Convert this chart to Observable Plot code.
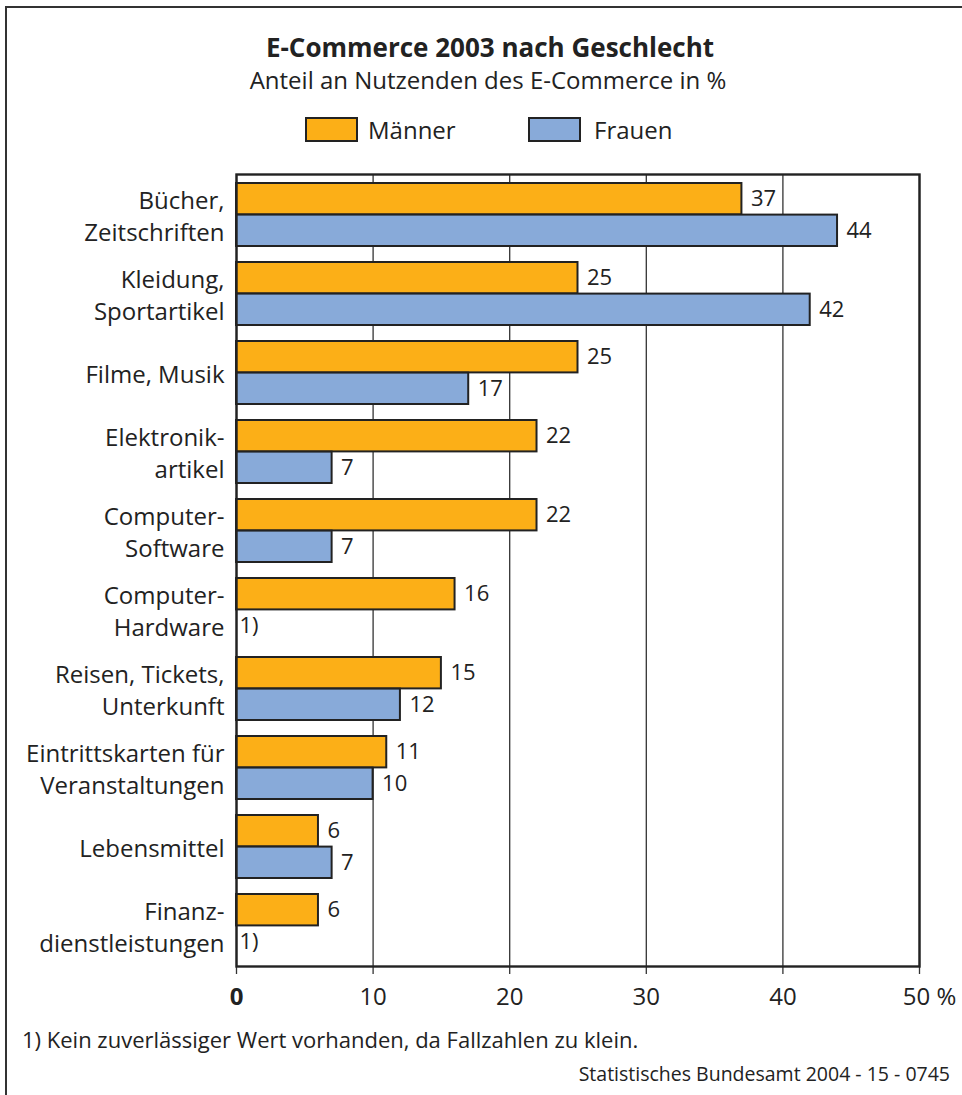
<!DOCTYPE html>
<html><head><meta charset="utf-8">
<script src="https://cdn.jsdelivr.net/npm/d3@7"></script>
<script src="https://cdn.jsdelivr.net/npm/@observablehq/plot@0.6"></script>
<style>
html,body{margin:0;padding:0;background:#fff;overflow:hidden;width:962px;height:1095px;}
body{position:relative;font-family:"Open Sans",sans-serif;color:#222;}
#border{position:absolute;left:5px;top:6px;width:1100px;height:1200px;border:2px solid #333;box-sizing:border-box;}
.t{position:absolute;white-space:nowrap;line-height:1;}
#title{left:0;width:980px;text-align:center;top:34px;font-size:26px;font-weight:bold;}
#subtitle{left:0;width:976px;text-align:center;top:68px;font-size:24px;}
.sw{position:absolute;top:117px;width:53px;height:25px;border:2px solid #222;box-sizing:border-box;}
.lg{top:118px;font-size:24px;}
#chart{position:absolute;left:0;top:150px;}
#foot{left:22px;top:1028px;font-size:22px;}
#source{right:12px;top:1064px;font-size:19.5px;}
</style></head>
<body>
<div id="border"></div>
<div class="t" id="title">E-Commerce 2003 nach Geschlecht</div>
<div class="t" id="subtitle">Anteil an Nutzenden des E-Commerce in %</div>
<div id="legend"></div>
<div id="chart"></div>
<div class="t" id="foot">1) Kein zuverlässiger Wert vorhanden, da Fallzahlen zu klein.</div>
<div class="t" id="source">Statistisches Bundesamt 2004 - 15 - 0745</div>
<script>
const categories = [
  "Bücher,\nZeitschriften",
  "Kleidung,\nSportartikel",
  "Filme, Musik",
  "Elektronik-\nartikel",
  "Computer-\nSoftware",
  "Computer-\nHardware",
  "Reisen, Tickets,\nUnterkunft",
  "Eintrittskarten für\nVeranstaltungen",
  "Lebensmittel",
  "Finanz-\ndienstleistungen"
];
const maenner = [37, 25, 25, 22, 22, 16, 15, 11, 6, 6];
const frauen  = [44, 42, 17, 7, 7, null, 12, 10, 7, null];
const seriesNames = ["Männer", "Frauen"];
const seriesColors = ["#fcaf17", "#88aad9"];
const xTicks = [0, 10, 20, 30, 40, 50];
const footnoteMark = "1)";

// legend
const legend = document.getElementById("legend");
const swLeft = [305, 528];
const lgGap = [63, 66];
seriesNames.forEach((n, i) => {
  const s = document.createElement("div");
  s.className = "sw"; s.style.left = swLeft[i] + "px"; s.style.background = seriesColors[i];
  legend.appendChild(s);
  const l = document.createElement("div");
  l.className = "t lg"; l.style.left = (swLeft[i] + lgGap[i]) + "px"; l.textContent = n;
  legend.appendChild(l);
});

const rowsM = categories.map((c, i) => ({category: c, value: maenner[i]}));
const rowsF = categories.map((c, i) => ({category: c, value: frauen[i]}));

const W = 962, H = 870, mt = 24, mb = 54, ml = 236, mr = 43;
const band = (H - mt - mb) / categories.length;
const half = band / 2;
const gap = 8;
const barOff = (half - gap) / 2; // offset from band center to each bar's center
const txt = {fill: "#222"};

const chart = Plot.plot({
  width: W, height: H,
  marginTop: mt, marginBottom: mb, marginLeft: ml, marginRight: mr,
  style: {fontFamily: "Open Sans, sans-serif", color: "#222", background: "transparent", overflow: "visible"},
  x: {domain: [0, 50], axis: null},
  y: {domain: categories, padding: 0, axis: null},
  marks: [
    Plot.ruleX(xTicks, {x: d => d, stroke: "#333", strokeWidth: 1.3, insetBottom: -8}),
    Plot.barX(rowsM, {x: "value", y: "category", fill: seriesColors[0], stroke: "#222", strokeWidth: 2, insetTop: gap, insetBottom: half}),
    Plot.barX(rowsF.filter(d => d.value != null), {x: "value", y: "category", fill: seriesColors[1], stroke: "#222", strokeWidth: 2, insetTop: half, insetBottom: gap}),
    Plot.text(rowsM, {x: "value", y: "category", text: d => String(d.value), textAnchor: "start", dx: 9, dy: -barOff, fontSize: 22, ...txt}),
    Plot.text(rowsF.filter(d => d.value != null), {x: "value", y: "category", text: d => String(d.value), textAnchor: "start", dx: 9, dy: barOff, fontSize: 22, ...txt}),
    Plot.text(rowsF.filter(d => d.value == null), {x: 0, y: "category", text: () => footnoteMark, textAnchor: "start", dx: 3, dy: barOff, fontSize: 22, ...txt}),
    Plot.frame({stroke: "#222", strokeWidth: 2.4}),
    Plot.text(categories, {x: 0, y: d => d, text: d => d, textAnchor: "end", dx: -12, fontSize: 24, lineHeight: 1.32, ...txt}),
    Plot.text(xTicks.filter(d => d === 0), {x: d => d, frameAnchor: "bottom", lineAnchor: "middle", dy: 31, text: d => String(d), fontSize: 24, fontWeight: "bold", ...txt}),
    Plot.text(xTicks.filter(d => d > 0 && d < 50), {x: d => d, frameAnchor: "bottom", lineAnchor: "middle", dy: 31, text: d => String(d), fontSize: 24, ...txt}),
    Plot.text(xTicks.filter(d => d === 50), {x: d => d, frameAnchor: "bottom", lineAnchor: "middle", dy: 31, dx: 10, text: d => d + " %", fontSize: 24, ...txt})
  ]
});
document.getElementById("chart").appendChild(chart);
</script>
</body></html>
